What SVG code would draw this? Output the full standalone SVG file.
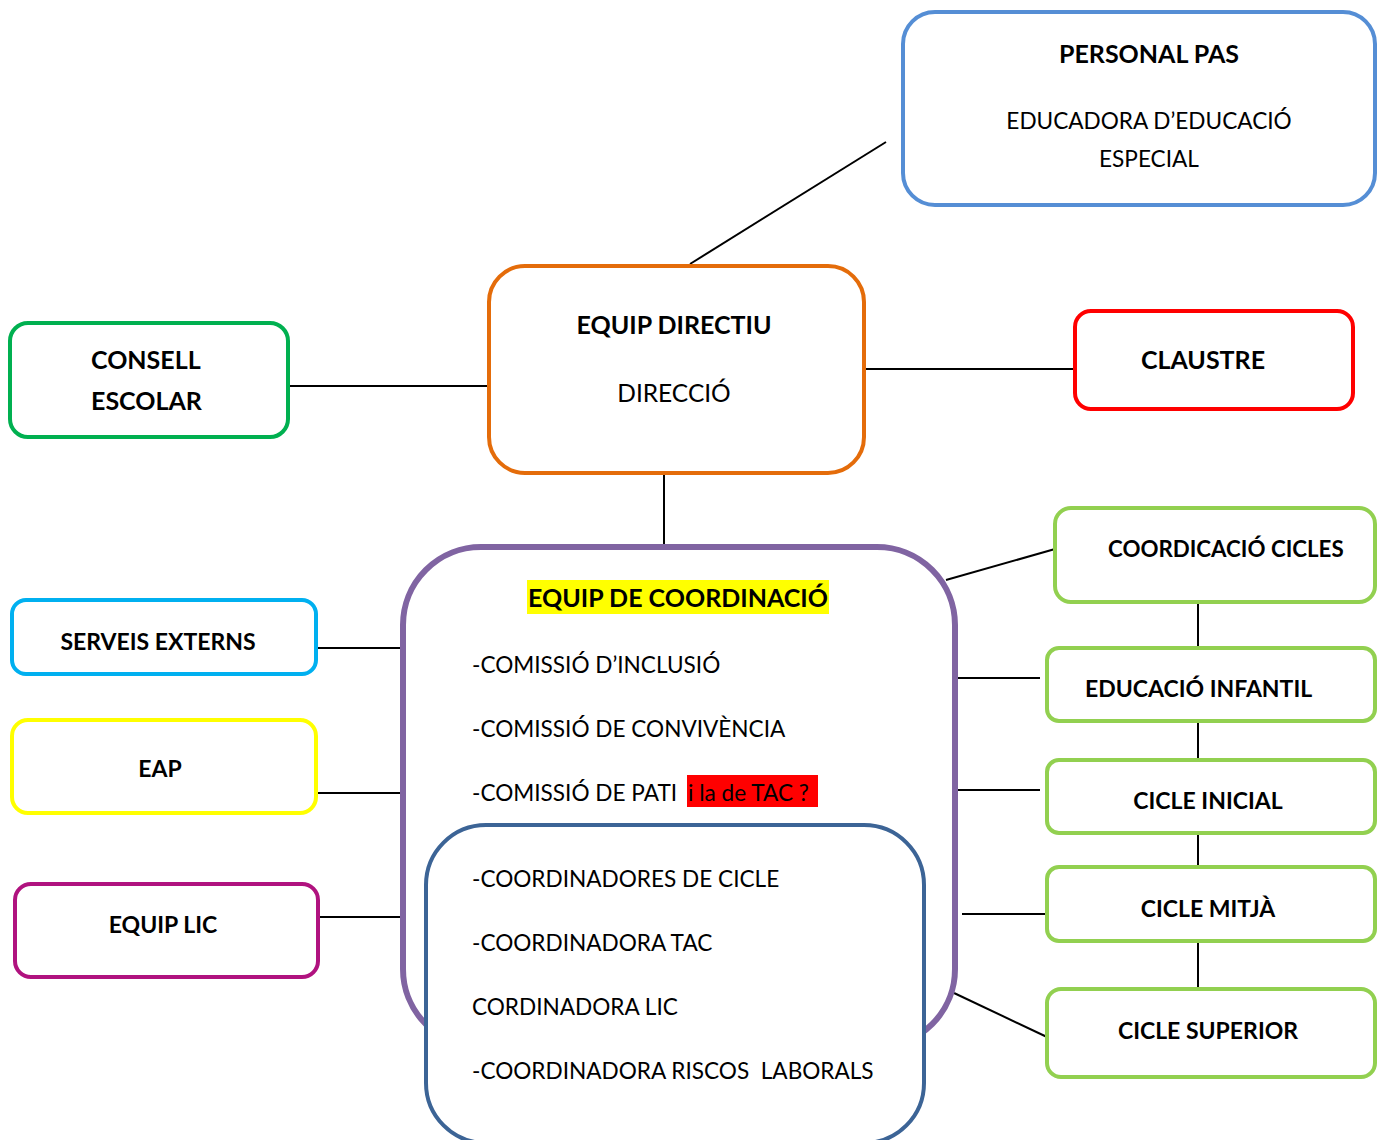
<svg xmlns="http://www.w3.org/2000/svg" width="1377" height="1140" viewBox="0 0 1377 1140">
<style>
.box{fill:#fff;stroke-width:4}
.b{font-family:Lato,"Open Sans","Liberation Sans",sans-serif;font-weight:bold;font-size:23px;fill:#000}
.B{font-size:25px}
.r{font-family:Lato,"Open Sans","Liberation Sans",sans-serif;font-size:22.6px;fill:#000;white-space:pre}
.c{text-anchor:middle}
.ln{stroke:#000;stroke-width:2;fill:none}
</style>
<rect width="1377" height="1140" fill="#fff"/>
<g id="connectors">
<line class="ln" x1="690" y1="264" x2="886" y2="142"/>
<line class="ln" x1="288" y1="386" x2="489" y2="386"/>
<line class="ln" x1="864" y1="369" x2="1075" y2="369"/>
<line class="ln" x1="664" y1="473" x2="664" y2="549"/>
<line class="ln" x1="316" y1="648" x2="403" y2="648"/>
<line class="ln" x1="316" y1="793" x2="403" y2="793"/>
<line class="ln" x1="318" y1="917" x2="403" y2="917"/>
<line class="ln" x1="946" y1="580" x2="1055" y2="549"/>
<line class="ln" x1="955" y1="678" x2="1040" y2="678"/>
<line class="ln" x1="955" y1="790" x2="1040" y2="790"/>
<line class="ln" x1="962" y1="914" x2="1047" y2="914"/>
<line class="ln" x1="954" y1="993" x2="1047" y2="1037"/>
<line class="ln" x1="1198" y1="602" x2="1198" y2="648"/>
<line class="ln" x1="1198" y1="721" x2="1198" y2="760"/>
<line class="ln" x1="1198" y1="833" x2="1198" y2="867"/>
<line class="ln" x1="1198" y1="941" x2="1198" y2="989"/>
</g>
<g id="personal-pas">
<rect class="box" x="903" y="12" width="472" height="193" rx="32" stroke="#558ED5"/>
<text class="b B c" x="1149" y="63">PERSONAL PAS</text>
<text class="r c" x="1149" y="129">EDUCADORA D’EDUCACIÓ</text>
<text class="r c" x="1149" y="167">ESPECIAL</text>
</g>
<g id="equip-directiu">
<rect class="box" x="489" y="266" width="375" height="207" rx="36" stroke="#E46C0A"/>
<text class="b B c" x="674" y="334">EQUIP DIRECTIU</text>
<text class="r c" x="674" y="402" style="font-size:24.5px">DIRECCIÓ</text>
</g>
<g id="consell-escolar">
<rect class="box" x="10" y="323" width="278" height="114" rx="18" stroke="#00B050"/>
<text class="b B" x="91" y="369">CONSELL</text>
<text class="b B" x="91" y="410">ESCOLAR</text>
</g>
<g id="claustre">
<rect class="box" x="1075" y="311" width="278" height="98" rx="16" stroke="#FF0000"/>
<text class="b B c" x="1203" y="369">CLAUSTRE</text>
</g>
<g id="serveis-externs">
<rect class="box" x="12" y="600" width="304" height="74" rx="14" stroke="#00B0F0"/>
<text class="b c" x="158" y="650">SERVEIS EXTERNS</text>
</g>
<g id="eap">
<rect class="box" x="12" y="720" width="304" height="93" rx="16" stroke="#FFFF00"/>
<text class="b c" x="160" y="777">EAP</text>
</g>
<g id="equip-lic">
<rect class="box" x="15" y="884" width="303" height="93" rx="16" stroke="#B0127F"/>
<text class="b c" x="163" y="933">EQUIP LIC</text>
</g>
<g id="equip-coordinacio">
<rect x="403" y="547" width="552" height="500" rx="78" fill="#fff" stroke="#8064A2" stroke-width="6"/>
<rect x="527" y="580" width="302" height="34" fill="#FFFF00"/>
<text class="b B c" x="678" y="607">EQUIP DE COORDINACIÓ</text>
<text class="r" x="472" y="673">-COMISSIÓ D’INCLUSIÓ</text>
<text class="r" x="472" y="737">-COMISSIÓ DE CONVIVÈNCIA</text>
<rect x="687" y="775" width="131" height="32" fill="#FF0000"/>
<text class="r" x="472" y="801">-COMISSIÓ DE PATI <tspan x="688">i la de TAC ?</tspan></text>
</g>
<g id="coordinadors">
<rect x="426" y="825" width="498" height="318" rx="60" fill="#fff" stroke="#3C6496" stroke-width="4"/>
<text class="r" x="472" y="887">-COORDINADORES DE CICLE</text>
<text class="r" x="472" y="951">-COORDINADORA TAC</text>
<text class="r" x="472" y="1015">CORDINADORA LIC</text>
<text class="r" x="472" y="1079" xml:space="preserve">-COORDINADORA RISCOS  LABORALS</text>
</g>
<g id="coordicacio-cicles">
<rect class="box" x="1055" y="508" width="320" height="94" rx="16" stroke="#92D050"/>
<text class="b" x="1108" y="557" style="font-size:22.3px">COORDICACIÓ CICLES</text>
</g>
<g id="educacio-infantil">
<rect class="box" x="1047" y="648" width="328" height="73" rx="12" stroke="#92D050"/>
<text class="b" x="1085" y="697">EDUCACIÓ INFANTIL</text>
</g>
<g id="cicle-inicial">
<rect class="box" x="1047" y="760" width="328" height="73" rx="12" stroke="#92D050"/>
<text class="b c" x="1208" y="809">CICLE INICIAL</text>
</g>
<g id="cicle-mitja">
<rect class="box" x="1047" y="867" width="328" height="74" rx="12" stroke="#92D050"/>
<text class="b c" x="1208" y="917">CICLE MITJÀ</text>
</g>
<g id="cicle-superior">
<rect class="box" x="1047" y="989" width="328" height="88" rx="14" stroke="#92D050"/>
<text class="b c" x="1208" y="1039">CICLE SUPERIOR</text>
</g>
</svg>
